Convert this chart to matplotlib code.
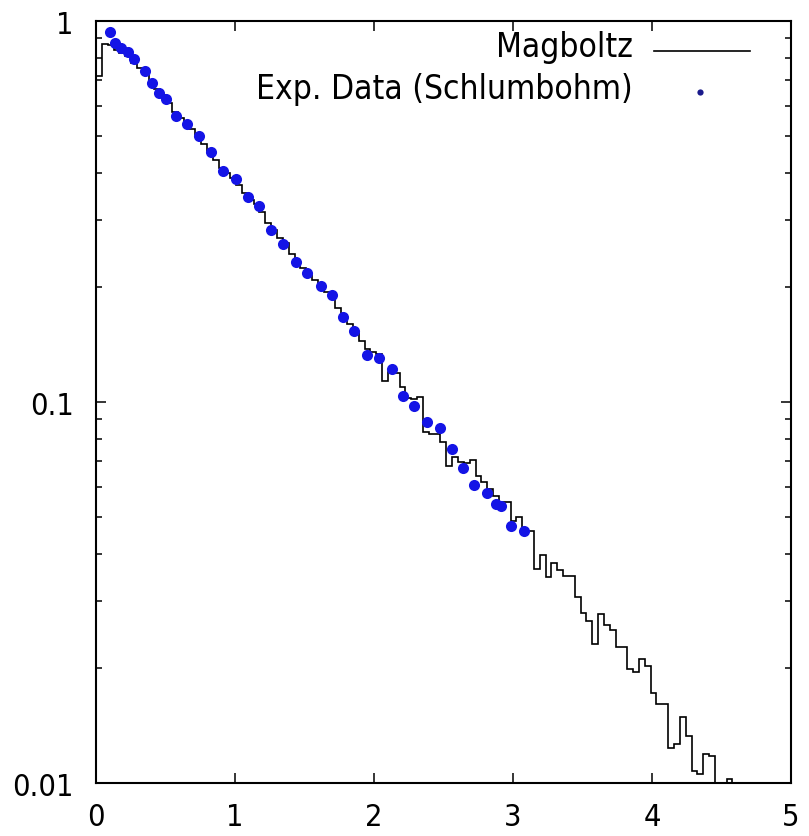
import numpy as np
import matplotlib.pyplot as plt
from matplotlib.lines import Line2D
from matplotlib.ticker import NullLocator, NullFormatter

plt.rcParams['font.family'] = ['DejaVu Sans']
plt.rcParams['font.stretch'] = 'condensed'

# Magboltz histogram (bin width in x units, bins start at 0)
BIN_WIDTH = 0.042
magboltz = [
    0.719, 0.871, 0.867, 0.841, 0.822, 0.809, 0.776, 0.755, 0.728, 0.692,
    0.664, 0.638, 0.610, 0.578, 0.556, 0.540, 0.522, 0.501, 0.476, 0.452,
    0.432, 0.412, 0.400, 0.387, 0.372, 0.353, 0.339, 0.330, 0.316, 0.295,
    0.283, 0.270, 0.262, 0.245, 0.236, 0.225, 0.216, 0.209, 0.202, 0.194,
    0.187, 0.177, 0.169, 0.160, 0.153, 0.145, 0.138, 0.135, 0.134, 0.1135,
    0.120, 0.119, 0.1096, 0.1023, 0.1019, 0.1028, 0.0832, 0.0824, 0.0824, 0.0783,
    0.0678, 0.0719, 0.0697, 0.0692, 0.0705, 0.0640, 0.0615, 0.0592, 0.0566, 0.0546,
    0.0546, 0.0488, 0.0498, 0.0459, 0.0459, 0.0365, 0.0397, 0.0347, 0.0378, 0.0362,
    0.0349, 0.0349, 0.0308, 0.0279, 0.0266, 0.0232, 0.0278, 0.0260, 0.0252, 0.0228,
    0.0228, 0.0199, 0.0196, 0.0212, 0.0203, 0.0172, 0.0161, 0.0161, 0.01236, 0.01266,
    0.0149, 0.01328, 0.01075, 0.01056, 0.01192, 0.01177, 0.0, 0.0, 0.01024, 0.0,
]

# Schlumbohm measurements
exp_x = [
    0.101, 0.140, 0.180, 0.229, 0.273, 0.353, 0.401, 0.453, 0.504, 0.578,
    0.653, 0.743, 0.829, 0.914, 1.004, 1.090, 1.175, 1.257, 1.347, 1.439,
    1.520, 1.617, 1.696, 1.779, 1.856, 1.947, 2.036, 2.127, 2.211, 2.290,
    2.379, 2.473, 2.559, 2.637, 2.719, 2.811, 2.880, 2.915, 2.986, 3.076,
]
exp_y = [
    0.938, 0.877, 0.849, 0.828, 0.797, 0.741, 0.688, 0.647, 0.624, 0.564,
    0.538, 0.500, 0.452, 0.404, 0.385, 0.346, 0.327, 0.282, 0.260, 0.2326,
    0.218, 0.201, 0.191, 0.1668, 0.1539, 0.1331, 0.1304, 0.1221, 0.1039, 0.0974,
    0.0888, 0.0855, 0.0752, 0.0670, 0.0604, 0.0577, 0.0540, 0.0533, 0.0474, 0.0458,
]

x_ticks = [0, 1, 2, 3, 4, 5]
y_ticks = [0.01, 0.1, 1]
y_tick_labels = ['0.01', '0.1', '1']

fig = plt.figure(figsize=(8.09, 8.37), dpi=100)
ax = fig.add_axes([0.1187, 0.0633, 0.8591, 0.9104])

edges = np.arange(len(magboltz) + 1) * BIN_WIDTH
counts = np.array(magboltz)
# empty bins fall below the axis on a log scale
counts = np.where(counts > 0, counts, 1e-4)
ax.stairs(counts, edges, baseline=None, color='black', linewidth=1.2)
ax.plot(exp_x, exp_y, 'o', color='#1414e6', markersize=8, markeredgewidth=0)

ax.set_yscale('log')
ax.set_xlim(0, 5)
ax.set_ylim(0.01, 1)
ax.set_xticks(x_ticks)
ax.set_yticks(y_ticks, labels=y_tick_labels)
ax.xaxis.set_minor_locator(NullLocator())
ax.yaxis.set_minor_formatter(NullFormatter())

for s in ax.spines.values():
    s.set_linewidth(1.5)
ax.tick_params(which='both', direction='in', top=True, right=True, width=1.1,
               labelsize=22)
ax.tick_params(which='major', length=7.5)
ax.tick_params(which='minor', length=4)
ax.tick_params(axis='x', pad=14)
ax.tick_params(axis='y', pad=16)

# key in the top-right corner, text right-aligned before the sample
ax.text(0.7727, 0.967, 'Magboltz', transform=ax.transAxes, ha='right',
        va='center', fontsize=24)
ax.add_line(Line2D([0.803, 0.941], [0.9606, 0.9606], transform=ax.transAxes,
                   color='black', linewidth=1.2))
ax.text(0.7727, 0.9108, 'Exp. Data (Schlumbohm)', transform=ax.transAxes,
        ha='right', va='center', fontsize=24)
ax.add_line(Line2D([0.869], [0.9068], transform=ax.transAxes, marker='o',
                   color='#1a1a8c', markersize=4.5, markeredgewidth=0))

fig.savefig('out.png', dpi=100)
